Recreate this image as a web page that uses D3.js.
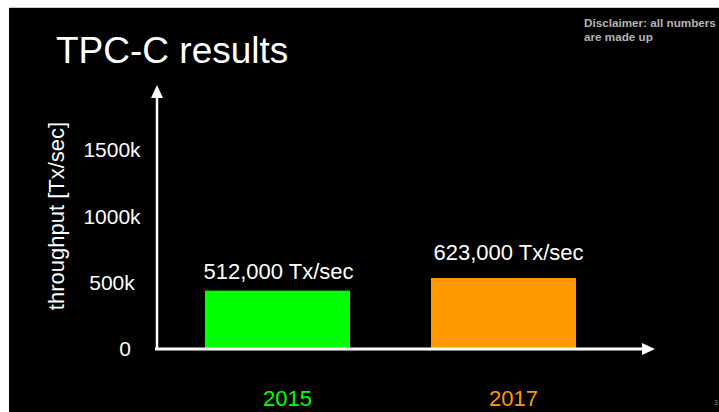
<!DOCTYPE html>
<html>
<head>
<meta charset="utf-8">
<script src="https://cdn.jsdelivr.net/npm/d3@7"></script>
<style>
  html, body { margin: 0; padding: 0; background: #fff; }
  svg text { font-family: "Liberation Sans", Arial, Helvetica, sans-serif; }
</style>
</head>
<body>
<div id="chart"></div>
<script>
// chart data
var years = ["2015", "2017"];
var throughput = [512000, 623000];
var valueLabels = ["512,000 Tx/sec", "623,000 Tx/sec"];
var barColors = ["#00ff00", "#ff9900"];
var tickValues = [0, 500000, 1000000, 1500000];
var tickLabels = ["0", "500k", "1000k", "1500k"];

var width = 719, height = 412;

var svg = d3.select("#chart")
  .append("svg")
  .attr("width", width)
  .attr("height", height);

// slide background (white margin on top/left like the screenshot)
svg.append("rect")
  .attr("x", 9)
  .attr("y", 7)
  .attr("width", width - 9)
  .attr("height", height - 7)
  .attr("fill", "#000");
svg.append("line")
  .attr("x1", 9).attr("x2", width)
  .attr("y1", 7.5).attr("y2", 7.5)
  .attr("stroke", "#c8c8c8")
  .attr("stroke-width", 1);

var x0 = 157, y0 = 349;

// scales: tick labels and bars don't share the same spacing on the slide
var yTick = d3.scaleLinear()
  .domain([0, 1500000])
  .range([y0, 150]);

var yBar = d3.scaleLinear()
  .domain([0, 1000000])
  .range([y0, y0 - 114]);

var x = d3.scaleBand()
  .domain(years)
  .range([x0, 624])
  .paddingInner(0.358)
  .paddingOuter(0.212);

// title
svg.append("text")
  .attr("x", 56)
  .attr("y", 63)
  .attr("fill", "#fff")
  .style("font-size", "37px")
  .text("TPC-C results");

// disclaimer
var disc = svg.append("text")
  .attr("fill", "#b4b4b4")
  .style("font-size", "11.7px")
  .style("font-weight", "bold");
disc.append("tspan").attr("x", 584).attr("y", 26.5).text("Disclaimer: all numbers");
disc.append("tspan").attr("x", 584).attr("y", 41).text("are made up");

// page number
svg.append("text")
  .attr("x", 714)
  .attr("y", 405)
  .attr("fill", "#888")
  .style("font-size", "7px")
  .text("3");

// y tick labels
var yAxis = d3.axisLeft(yTick)
  .tickValues(tickValues)
  .tickSize(0)
  .tickFormat(function(d, i){ return tickLabels[i]; });

var yg = svg.append("g")
  .attr("transform", "translate(112,0)")
  .call(yAxis);
yg.select(".domain").remove();
yg.selectAll("text")
  .attr("x", function(d){ return d === 0 ? 13 : 0; })
  .attr("text-anchor", "middle")
  .attr("fill", "#fff")
  .style("font-size", "21px")
  .style("font-family", "'Liberation Sans', Arial, sans-serif");

// y axis title
svg.append("text")
  .attr("transform", "translate(64," + 216 + ") rotate(-90)")
  .attr("text-anchor", "middle")
  .attr("fill", "#fff")
  .style("font-size", "22px")
  .text("throughput [Tx/sec]");

// bars
svg.selectAll("rect.bar")
  .data(throughput)
  .enter()
  .append("rect")
  .attr("class", "bar")
  .attr("x", function(d, i){ return x(years[i]); })
  .attr("y", function(d){ return yBar(d); })
  .attr("width", x.bandwidth())
  .attr("height", function(d){ return y0 - yBar(d); })
  .attr("fill", function(d, i){ return barColors[i]; });

// value labels above bars
svg.selectAll("text.val")
  .data(throughput)
  .enter()
  .append("text")
  .attr("class", "val")
  .attr("x", function(d, i){ return x(years[i]) + x.bandwidth() / 2 + (i === 0 ? 1 : 5); })
  .attr("y", function(d, i){ return yBar(d) - (i === 0 ? 12 : 18); })
  .attr("text-anchor", "middle")
  .attr("fill", "#fff")
  .style("font-size", "22px")
  .text(function(d, i){ return valueLabels[i]; });

// year labels below axis
svg.selectAll("text.year")
  .data(years)
  .enter()
  .append("text")
  .attr("class", "year")
  .attr("x", function(d){ return x(d) + x.bandwidth() / 2 + 10; })
  .attr("y", 406)
  .attr("text-anchor", "middle")
  .attr("fill", function(d, i){ return barColors[i]; })
  .style("font-size", "22px")
  .text(function(d){ return d; });

// axis lines with arrow heads
svg.append("line")
  .attr("x1", x0).attr("x2", x0)
  .attr("y1", y0 + 1).attr("y2", 96)
  .attr("stroke", "#fff")
  .attr("stroke-width", 2.5);
svg.append("path")
  .attr("d", "M" + x0 + ",85 L" + (x0 - 6) + ",98 L" + (x0 + 6) + ",98 Z")
  .attr("fill", "#fff");

svg.append("line")
  .attr("x1", x0 - 2).attr("x2", 644)
  .attr("y1", y0).attr("y2", y0)
  .attr("stroke", "#fff")
  .attr("stroke-width", 3);
svg.append("path")
  .attr("d", "M655," + y0 + " L642," + (y0 - 6) + " L642," + (y0 + 6) + " Z")
  .attr("fill", "#fff");
</script>
</body>
</html>
